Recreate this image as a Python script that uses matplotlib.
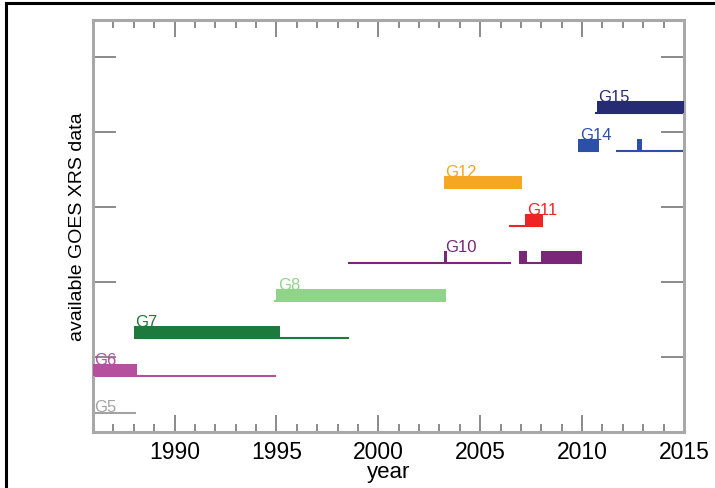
import matplotlib
matplotlib.use("Agg")
import matplotlib.pyplot as plt
from matplotlib.lines import Line2D
from matplotlib.ticker import MultipleLocator, NullFormatter

plt.rcParams['font.family'] = ['Liberation Sans', 'DejaVu Sans']

# ---- data ----
satellites = ['G5', 'G6', 'G7', 'G8', 'G10', 'G11', 'G12', 'G14', 'G15']
rows = [0.25, 0.75, 1.25, 1.75, 2.25, 2.75, 3.25, 3.75, 4.25]
colors = ['#a3a3a3', '#b5509f', '#1b7a3c', '#92d38c', '#7a2679',
          '#ee2424', '#f5a623', '#2c4fa8', '#262b73']
# thin lines: periods with any data (start year, end year)
thin_spans = [
    [(1985.9, 1988.1)],
    [(1985.9, 1995.0)],
    [(1988.0, 1998.55)],
    [(1994.9, 2003.3)],
    [(1998.5, 2006.5), (2006.9, 2010.0)],
    [(2006.4, 2008.1)],
    [(2003.2, 2007.05)],
    [(2009.8, 2010.85), (2011.65, 2015.2)],
    [(2010.65, 2015.2)],
]
# thick bars: primary operational periods (start year, end year)
thick_spans = [
    [],
    [(1985.9, 1988.15)],
    [(1988.0, 1995.2)],
    [(1995.0, 2003.3)],
    [(2003.22, 2003.38), (2006.9, 2007.3), (2008.0, 2010.0)],
    [(2007.2, 2008.1)],
    [(2003.2, 2007.05)],
    [(2009.8, 2010.85), (2012.68, 2012.92)],
    [(2010.75, 2015.2)],
]
label_x = [1986.05, 1986.05, 1988.05, 1995.1, 2003.3, 2007.3, 2003.3, 2009.9, 2010.8]

bar_h = 0.16

fig = plt.figure(figsize=(7.15, 4.89), dpi=100)
ax = fig.add_axes([93/715, 1 - 433/489, (684-93)/715, (433-20.7)/489])

for name, y, c, thin, thick, lx in zip(satellites, rows, colors, thin_spans, thick_spans, label_x):
    for s, e in thin:
        ax.hlines(y, s, e, color=c, linewidth=1.5, zorder=2)
    if thick:
        ax.broken_barh([(s, e - s) for s, e in thick], (y, bar_h), facecolors=c,
                       edgecolor='none', zorder=3)
        ty = y + bar_h
    else:
        ty = y + 0.03
    ax.text(lx, ty, name, color=c, fontsize=12, ha='left', va='baseline', zorder=4)

ax.set_xlim(1986, 2015)
ax.set_ylim(0, 5.5)
ax.xaxis.set_major_locator(MultipleLocator(5))
ax.xaxis.set_minor_locator(MultipleLocator(1))
ax.set_yticks([1, 2, 3, 4, 5])
ax.yaxis.set_major_formatter(NullFormatter())

tick_col = '#777777'
ax.tick_params(axis='x', which='major', direction='in', length=12, width=1.2,
               color=tick_col, top=True, bottom=True, labelsize=16.5, pad=5.5)
ax.tick_params(axis='x', which='minor', direction='in', length=6, width=1.2,
               color=tick_col, top=True, bottom=True)
ax.tick_params(axis='y', which='major', direction='in', length=16.5, width=1.2,
               color=tick_col, left=True, right=True)
for sp in ax.spines.values():
    sp.set_color('#a8a8a8')
    sp.set_linewidth(2.2)

ax.set_xlabel('year', fontsize=16, labelpad=-1)
ax.set_ylabel('available GOES XRS data', fontsize=14, labelpad=1.5)

# partial frame of the original screenshot (left and top edges)
fig.add_artist(Line2D([6/715, 6/715], [0, 1 - 4/489], color='black', linewidth=2.2,
                      transform=fig.transFigure))
fig.add_artist(Line2D([6/715, 1], [1 - 4/489, 1 - 4/489], color='black', linewidth=2.2,
                      transform=fig.transFigure))

fig.savefig('out.png', dpi=100)
